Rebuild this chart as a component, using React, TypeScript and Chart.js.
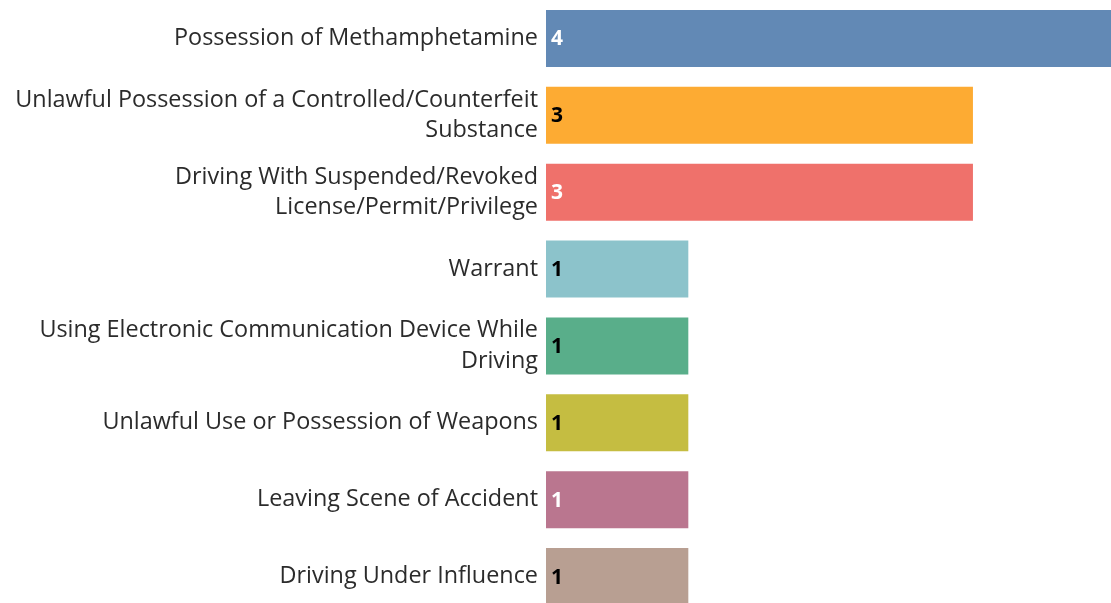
import React, { useEffect, useRef } from "react";
import { Chart, registerables } from "chart.js";

Chart.register(...registerables);

const categories: (string | string[])[] = [
  "Possession of Methamphetamine",
  ["Unlawful Possession of a Controlled/Counterfeit", "Substance"],
  ["Driving With Suspended/Revoked", "License/Permit/Privilege"],
  "Warrant",
  ["Using Electronic Communication Device While", "Driving"],
  "Unlawful Use or Possession of Weapons",
  "Leaving Scene of Accident",
  "Driving Under Influence",
];

const counts = [4, 3, 3, 1, 1, 1, 1, 1];

const barColors = [
  "#6289b5",
  "#fdab33",
  "#ef716b",
  "#8cc3cb",
  "#59ae8a",
  "#c5bd41",
  "#ba768f",
  "#b89f92",
];

const valueLabelColors = ["#ffffff", "#000000", "#ffffff", "#000000", "#000000", "#000000", "#ffffff", "#000000"];

const FONT = "'Open Sans', 'Noto Sans', sans-serif";

const valueLabelPlugin = {
  id: "valueLabels",
  afterDatasetsDraw(chart: any) {
    const ctx = chart.ctx;
    const meta = chart.getDatasetMeta(0);
    ctx.save();
    ctx.font = `bold 21px ${FONT}`;
    ctx.textAlign = "left";
    ctx.textBaseline = "middle";
    meta.data.forEach((bar: any, i: number) => {
      ctx.fillStyle = valueLabelColors[i];
      ctx.fillText(String(counts[i]), bar.base + 5, bar.y + 1);
    });
    ctx.restore();
  },
};

export default function App() {
  const ref = useRef<HTMLCanvasElement>(null);
  useEffect(() => {
    if (!ref.current) return;
    const chart = new Chart(ref.current, {
      type: "bar",
      data: {
        labels: categories,
        datasets: [
          {
            data: counts,
            backgroundColor: barColors,
            borderWidth: 0,
            categoryPercentage: 1,
            barPercentage: 0.74,
          },
        ],
      },
      options: {
        indexAxis: "y",
        animation: false,
        responsive: false,
        maintainAspectRatio: false,
        layout: { padding: 0 },
        plugins: {
          legend: { display: false },
          tooltip: { enabled: false },
        },
        scales: {
          x: {
            display: false,
            min: 0,
            max: 3.97,
          },
          y: {
            grid: { display: false, drawTicks: false },
            border: { display: false },
            ticks: {
              padding: 8,
              color: "#2b2b2b",
              font: { family: FONT, size: 23.4, lineHeight: 1.3 },
            },
            afterFit(scale: any) {
              scale.width = 546;
              scale.paddingTop = 0;
              scale.paddingBottom = 0;
            },
          },
        },
      },
      plugins: [valueLabelPlugin],
    });
    return () => chart.destroy();
  }, []);
  return (
    <div style={{ position: "fixed", top: 0, left: 0, width: 1111, height: 603, overflow: "hidden", background: "#fff" }}>
      <canvas ref={ref} width={1111} height={615} style={{ display: "block", width: 1111, height: 615 }} />
    </div>
  );
}
